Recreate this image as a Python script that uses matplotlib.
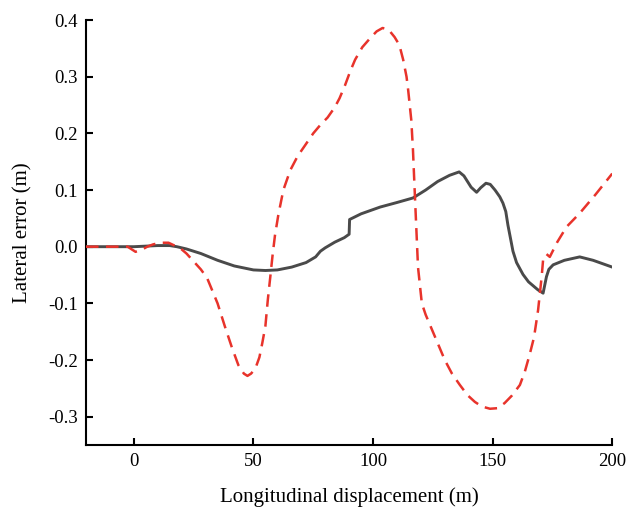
import matplotlib
matplotlib.use('Agg')
import matplotlib.pyplot as plt

plt.rcParams['font.family'] = ['Liberation Serif', 'DejaVu Serif']

# solid (grey) curve
solid_x = [-20, 0, 10, 15, 18, 22, 28, 35, 42, 50, 55, 60, 66, 72, 76, 78, 80, 84, 88, 90,
           90.2, 95, 103, 110, 116.7, 122, 127, 132, 136, 138, 141, 143.3, 145, 147.2, 149,
           151, 153, 154.3, 155.5, 156.4, 157.5, 158.5, 160, 162.7, 165, 168.9, 171.1, 172.5,
           173.5, 175.3, 180, 186.4, 192, 200]
solid_y = [0, 0, 0.002, 0.002, 0.0, -0.004, -0.012, -0.024, -0.034, -0.041, -0.042, -0.041,
           -0.036, -0.028, -0.018, -0.008, -0.002, 0.008, 0.016, 0.022, 0.048, 0.058, 0.07,
           0.078, 0.086, 0.1, 0.115, 0.126, 0.132, 0.125, 0.105, 0.096, 0.104, 0.112, 0.11,
           0.1, 0.088, 0.077, 0.062, 0.038, 0.014, -0.008, -0.028, -0.049, -0.062, -0.076,
           -0.082, -0.053, -0.04, -0.032, -0.024, -0.018, -0.024, -0.036]

# dashed (red) curve
dash_x = [-20, -2.6, 0.7, 3, 5.6, 8, 11, 14.5, 16, 19.5, 22, 25, 28, 30.6, 35, 38, 41, 43.7,
          46, 47.5, 49, 50.8, 52.5, 53.7, 55, 56, 57, 58, 59, 60.4, 62.5, 65.4, 68.5, 71.6,
          75, 78, 81, 84, 86, 88.3, 90.5, 92.5, 95.5, 98.8, 101.5, 104, 106.5, 109, 111,
          112.6, 114, 114.7, 116, 116.7, 117.5, 118.8, 120.4, 122, 123.8, 127, 130, 133,
          136.3, 139.5, 142.6, 145.5, 148.9, 152, 155, 158, 161.4, 163.5, 165.5, 167.3, 169,
          170.5, 171.1, 172.5, 173.9, 177, 180.9, 186.4, 193, 200]
dash_y = [0, 0, -0.009, -0.006, 0, 0.004, 0.007, 0.007, 0.004, -0.003, -0.012, -0.026, -0.04,
          -0.055, -0.1, -0.14, -0.178, -0.209, -0.224, -0.228, -0.224, -0.215, -0.195, -0.17,
          -0.14, -0.094, -0.055, -0.015, 0.02, 0.056, 0.1, 0.135, 0.16, 0.179, 0.2, 0.215,
          0.228, 0.246, 0.262, 0.285, 0.31, 0.33, 0.352, 0.368, 0.38, 0.386, 0.383, 0.37,
          0.356, 0.33, 0.3, 0.276, 0.223, 0.17, 0.09, -0.036, -0.1, -0.12, -0.138, -0.17,
          -0.2, -0.224, -0.244, -0.262, -0.274, -0.282, -0.286, -0.285, -0.276, -0.263,
          -0.244, -0.22, -0.19, -0.16, -0.112, -0.053, -0.023, -0.013, -0.018, 0.008, 0.035,
          0.059, 0.092, 0.129]

xticks = [0, 50, 100, 150, 200]
yticks = [-0.3, -0.2, -0.1, 0.0, 0.1, 0.2, 0.3, 0.4]

fig = plt.figure(figsize=(6.26, 5.14), dpi=100)
ax = fig.add_axes([0.1374, 0.1342, 0.8406, 0.8268])
ax.plot(solid_x, solid_y, color='#4a4a4a', lw=2.1, solid_joinstyle='round', zorder=3)
ax.plot(dash_x, dash_y, color='#e8332b', lw=1.8, dashes=(5, 3), zorder=4)

ax.set_xlim(-20, 200)
ax.set_ylim(-0.35, 0.4)
ax.set_xticks(xticks)
ax.set_yticks(yticks)
ax.set_yticklabels(['%.1f' % v for v in yticks])
ax.tick_params(direction='in', length=5, width=1.5, labelsize=13.5, pad=6)
for s in ['top', 'right']:
    ax.spines[s].set_visible(False)
for s in ['left', 'bottom']:
    ax.spines[s].set_linewidth(1.5)
ax.set_xlabel('Longitudinal displacement (m)', fontsize=15, labelpad=12)
ax.set_ylabel('Lateral error (m)', fontsize=15, labelpad=11)

fig.savefig('out.png', dpi=100)
